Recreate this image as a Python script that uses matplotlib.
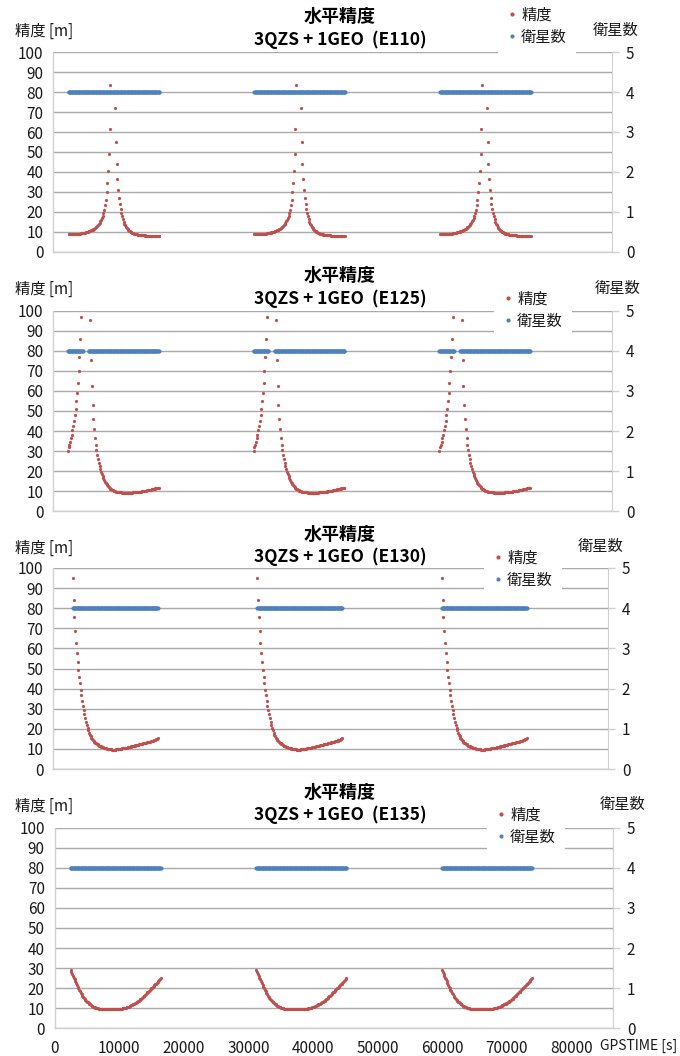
import numpy as np
import matplotlib
matplotlib.use('Agg')  # no display
import matplotlib.pyplot as plt
from matplotlib.lines import Line2D

plt.rcParams['font.family'] = ['Noto Sans CJK JP', 'DejaVu Sans']

nan = np.nan

# ---- data -------------------------------------------------------------
# GPS time axis [s]
x_max = 86400
x_ticks = [0, 10000, 20000, 30000, 40000, 50000, 60000, 70000, 80000]
step_s = 120          # sampling interval of the precision series
sat_count = 4         # number of satellites in view during a pass

# start of each of the three passes [s]
pass_starts_e110 = [2400, 31120, 59840]
pass_starts_e125 = [2280, 31000, 59720]
pass_starts_e130 = [3100, 31820, 60540]
pass_starts_e135 = [2500, 31220, 59940]

# pass-relative time range where the satellite count is missing [s]
sat_gap_e125 = (2300, 3200)

# horizontal precision [m] for one pass, every step_s seconds (nan = above 100 m)
hacc_e110 = [9.2, 9.1, 9.0, 9.0, 9.0, 9.0, 9.0, 9.0, 9.0, 9.0, 9.0,
             9.1, 9.1, 9.1, 9.2, 9.2, 9.3, 9.3, 9.4, 9.5, 9.6,
             9.7, 9.8, 9.9, 10.0, 10.1, 10.3, 10.4, 10.6, 10.8, 11.0,
             11.2, 11.4, 11.7, 12.0, 12.3, 12.7, 13.1, 13.5, 14.0, 14.6,
             15.3, 16.1, 17.0, 18.1, 19.5, 21.2, 23.4, 26.2, 29.8, 34.4,
             40.4, 48.8, 61.6, 83.4, nan, nan, nan, nan, nan,
             72.0, 55.0, 44.0, 36.5, 31.0, 27.0, 24.0, 21.5, 19.5, 17.8,
             16.4, 15.2, 14.2, 13.3, 12.6, 12.0, 11.5, 11.0, 10.6, 10.3,
             10.0, 9.8, 9.6, 9.4, 9.2, 9.1, 9.0, 8.9, 8.8, 8.7,
             8.7, 8.6, 8.5, 8.5, 8.4, 8.4, 8.3, 8.3, 8.3, 8.2, 8.2,
             8.2, 8.2, 8.2, 8.1, 8.1, 8.1, 8.1, 8.1, 8.1, 8.1, 8.1,
             8.2, 8.2, 8.2, 8.2, 8.2, 8.2]

hacc_e125 = [30.0, 31.8, 33.2, 34.7, 36.4, 38.2, 40.3, 42.5, 45.0, 47.9,
             51.1, 54.8, 59.1, 64.1, 70.0, 77.1, 85.8, 96.8,
             nan, nan, nan, nan, nan, nan, nan, nan, nan, nan, nan,
             95.7, 75.4, 62.3, 53.0, 46.1, 40.9, 36.6, 33.2, 30.4, 28.0,
             26.0, 24.2, 22.7,
             21.0, 19.7, 18.5, 17.4, 16.4, 15.5, 14.7, 14.0, 13.4, 12.8,
             12.3, 11.9, 11.5, 11.1, 10.8, 10.5, 10.3, 10.1, 9.9, 9.8,
             9.7, 9.6, 9.5, 9.4, 9.4, 9.3, 9.3, 9.3, 9.2,
             9.2, 9.2, 9.2, 9.2, 9.2, 9.2, 9.2, 9.2, 9.2, 9.2, 9.2,
             9.2, 9.2, 9.3, 9.3, 9.3, 9.4, 9.4, 9.5, 9.5, 9.6,
             9.6, 9.7, 9.7, 9.8, 9.9, 9.9, 10.0, 10.1, 10.1, 10.2,
             10.3, 10.4, 10.4, 10.5, 10.6, 10.7, 10.8, 10.9, 11.0, 11.1,
             11.2, 11.3, 11.4, 11.5, 11.6, 11.7]

hacc_e130 = [95.0, 84.0, 75.5, 68.5, 62.5, 57.5, 53.0, 49.2, 45.8, 42.8,
             39.5, 36.8, 34.0, 31.5, 29.2, 27.2, 25.3, 23.5, 21.9, 20.5,
             19.2, 18.1, 17.1, 16.3, 15.6, 15.0, 14.4, 13.9, 13.5, 13.1,
             12.8, 12.5, 12.2, 11.9, 11.6, 11.4, 11.2, 11.0, 10.8, 10.7,
             10.5, 10.4, 10.3, 10.2, 10.1, 10.0, 9.9, 9.9, 9.8, 9.8,
             9.8, 9.7, 9.7, 9.7, 9.7, 9.7, 9.8, 9.8, 9.8, 9.9,
             9.9, 10.0, 10.0, 10.1, 10.2, 10.2, 10.3, 10.4, 10.4, 10.5,
             10.6, 10.7, 10.8, 10.9, 11.0, 11.1, 11.2, 11.3, 11.4, 11.5,
             11.6, 11.7, 11.8, 11.9, 12.0, 12.1, 12.2, 12.3, 12.4, 12.5,
             12.6, 12.7, 12.8, 12.9, 13.0, 13.1, 13.2, 13.3, 13.4, 13.5,
             13.6, 13.7, 13.8, 13.9, 14.0, 14.2, 14.4, 14.6, 14.8, 15.0, 15.2]

hacc_e135 = [29.2, 28.2, 27.2, 26.2, 25.3, 24.4, 23.5, 22.5, 21.6, 20.8,
             20.0, 19.2, 18.4, 17.6, 16.9, 16.3, 15.7, 15.1, 14.6, 14.1,
             13.7, 13.3, 12.9, 12.5, 12.2, 11.9, 11.6, 11.3, 11.1, 10.9,
             10.7, 10.5, 10.4, 10.2, 10.1, 10.0, 9.9, 9.8, 9.8, 9.7,
             9.7, 9.6, 9.6, 9.6, 9.5,
             9.5, 9.5, 9.5, 9.5, 9.5, 9.5, 9.5, 9.5, 9.5, 9.5, 9.5, 9.5,
             9.5, 9.5, 9.5, 9.5,
             9.6, 9.6, 9.7, 9.7, 9.8, 9.9, 10.0, 10.1, 10.2, 10.3,
             10.4, 10.5, 10.6, 10.8, 10.9, 11.1, 11.3, 11.5, 11.7, 11.9,
             12.1, 12.3, 12.5, 12.7, 12.9, 13.2, 13.5, 13.8, 14.1, 14.4,
             14.7, 15.1, 15.5, 15.9, 16.3, 16.7, 17.1, 17.5, 17.9, 18.3,
             18.7, 19.1, 19.5, 19.9, 20.3, 20.7, 21.1, 21.5, 21.9, 22.3,
             22.7, 23.1, 23.5, 24.0, 24.5, 25.0]

panel_names = ['E110', 'E125', 'E130', 'E135']
panel_hacc = [hacc_e110, hacc_e125, hacc_e130, hacc_e135]
panel_starts = [pass_starts_e110, pass_starts_e125, pass_starts_e130, pass_starts_e135]
panel_gaps = [None, sat_gap_e125, None, None]

# ---- layout (pixels of the 680x1056 picture) ---------------------------
W, H = 680, 1056
RED = '#C0504D'
BLUE = '#4F81BD'
GRID = '#aaaaaa'
SPINE = '#d0d0d0'
TXT = '#1a1a1a'

# plot area: left, right, top(=100), bottom(=0)
areas = [(53, 612, 52, 252), (53, 612, 311, 511),
         (53, 608, 568, 769), (54.5, 613, 827.5, 1028.4)]
title_y = [16.7, 275, 534, 792]
sub_y = [40, 299, 557, 815]
ylab_y = [31, 289, 548, 806]
y2lab = [(616, 31), (618, 289), (601, 547), (623, 805)]
legend_pos = [(512, 15, 37), (508, 298, 322), (498, 557, 581), (501, 814, 838)]


def px(x, y):
    return x / W, 1 - y / H


fig = plt.figure(figsize=(W / 100, H / 100), dpi=100)

for i, name in enumerate(panel_names):
    l, r, t, b = areas[i]
    ax = fig.add_axes([l / W, 1 - b / H, (r - l) / W, (b - t) / H])
    ax2 = ax.twinx()

    hacc = np.array(panel_hacc[i], dtype=float)
    rel = np.arange(len(hacc)) * step_s
    sats = np.full(len(hacc), float(sat_count))
    if panel_gaps[i] is not None:
        g0, g1 = panel_gaps[i]
        sats[(rel > g0) & (rel < g1)] = nan

    for start in panel_starts[i]:
        ax.plot(start + rel, hacc, ls='none', marker='o', ms=2.3,
                mec='none', color=RED, zorder=3)
        ax2.plot(start + rel, sats, ls='none', marker='o', ms=3.0,
                 mec='none', color=BLUE, zorder=3)

    # primary axis: precision
    ax.set_xlim(0, x_max)
    ax.set_ylim(0, 100)
    ax.set_yticks(range(0, 101, 10))
    ax.yaxis.grid(True, color=GRID, lw=1.0)
    ax.set_axisbelow(True)
    ax.tick_params(axis='y', length=0, pad=7, labelsize=11, labelcolor=TXT)
    ax.set_xticks(x_ticks)
    if i == 3:
        ax.tick_params(axis='x', length=0, pad=8, labelsize=11, labelcolor=TXT)
    else:
        ax.tick_params(axis='x', length=0, labelbottom=False)
    for side in ['top', 'right']:
        ax.spines[side].set_visible(False)
    for side in ['left', 'bottom']:
        ax.spines[side].set_color(SPINE)
        ax.spines[side].set_linewidth(1.0)

    # secondary axis: satellite count
    ax2.set_ylim(0, 5)
    ax2.set_yticks(range(0, 6))
    ax2.tick_params(axis='y', length=5, width=1.0, color=SPINE, pad=5,
                    labelsize=11, labelcolor=TXT)
    for side in ['top', 'left', 'bottom']:
        ax2.spines[side].set_visible(False)
    ax2.spines['right'].set_color(SPINE)

    # titles and axis names
    fig.text(*px(340, title_y[i]), '水平精度', ha='center', va='center',
             fontsize=13, fontweight='bold', color='black')
    fig.text(*px(340, sub_y[i]), f'3QZS + 1GEO  ({name})', ha='center',
             va='center', fontsize=12.5, fontweight='bold', color='black')
    fig.text(*px(15, ylab_y[i]), '精度 [m]', ha='left', va='center',
             fontsize=11, color=TXT)
    fig.text(*px(*y2lab[i]), '衛星数', ha='center', va='center',
             fontsize=11, color=TXT)

    # legend with white box
    mx, ly1, ly2 = legend_pos[i]
    handles = [Line2D([], [], ls='none', marker='o', ms=3, mec='none', color=RED),
               Line2D([], [], ls='none', marker='o', ms=3, mec='none', color=BLUE)]
    fig.legend(handles, ['精度', '衛星数'], loc='center left',
               bbox_to_anchor=px(mx - 13.8, (ly1 + ly2) / 2),
               bbox_transform=fig.transFigure, frameon=True,
               facecolor='white', edgecolor='none', framealpha=1,
               fancybox=False, borderpad=0.6, handlelength=0.6,
               handletextpad=0.3, labelspacing=0.35, borderaxespad=0,
               fontsize=11, labelcolor=TXT)

fig.text(*px(677, 1046), 'GPSTIME [s]', ha='right', va='center',
         fontsize=10, color=TXT)

plt.savefig('out.png', dpi=100)
plt.close()
